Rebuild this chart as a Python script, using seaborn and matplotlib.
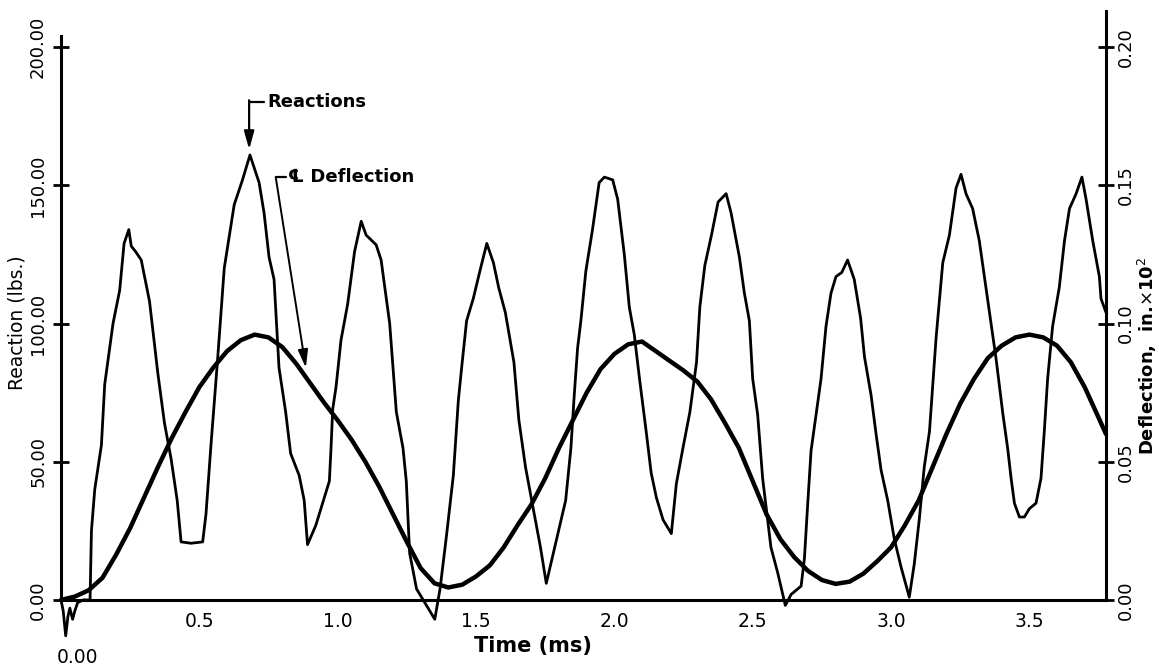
import matplotlib
matplotlib.use("Agg")
import matplotlib.pyplot as plt
import seaborn as sns
import pandas as pd

# ---------------- data ----------------
reaction_t = [0.000, 0.008, 0.017, 0.025, 0.032, 0.042, 0.050, 0.060, 0.080, 0.105,
              0.110, 0.122, 0.146, 0.158, 0.188, 0.212, 0.228, 0.245, 0.254, 0.270,
              0.290, 0.320, 0.350, 0.374, 0.398, 0.420, 0.434, 0.470, 0.512, 0.524,
              0.542, 0.566, 0.590, 0.626, 0.656, 0.683, 0.716, 0.734, 0.752, 0.770,
              0.788, 0.812, 0.830, 0.861, 0.879, 0.891, 0.921, 0.970, 0.976, 0.982,
              0.994, 1.012, 1.036, 1.061, 1.085, 1.103, 1.139, 1.157, 1.188, 1.212,
              1.236, 1.248, 1.260, 1.285, 1.315, 1.351, 1.370, 1.393, 1.418, 1.436,
              1.448, 1.466, 1.490, 1.514, 1.539, 1.563, 1.582, 1.606, 1.637, 1.655,
              1.679, 1.709, 1.733, 1.754, 1.782, 1.824, 1.843, 1.855, 1.867, 1.879,
              1.897, 1.921, 1.945, 1.964, 1.994, 2.012, 2.036, 2.054, 2.072, 2.091,
              2.115, 2.133, 2.152, 2.176, 2.206, 2.224, 2.248, 2.273, 2.297, 2.309,
              2.327, 2.351, 2.375, 2.404, 2.422, 2.452, 2.470, 2.488, 2.500, 2.518,
              2.536, 2.554, 2.566, 2.590, 2.618, 2.639, 2.675, 2.687, 2.699, 2.711,
              2.729, 2.747, 2.765, 2.783, 2.801, 2.822, 2.843, 2.867, 2.890, 2.904,
              2.928, 2.946, 2.964, 2.988, 3.012, 3.036, 3.066, 3.084, 3.102, 3.120,
              3.139, 3.163, 3.187, 3.211, 3.235, 3.253, 3.271, 3.295, 3.319, 3.343,
              3.361, 3.380, 3.404, 3.422, 3.434, 3.446, 3.464, 3.482, 3.500, 3.524,
              3.542, 3.554, 3.566, 3.584, 3.608, 3.627, 3.645, 3.669, 3.690, 3.705,
              3.729, 3.753, 3.759, 3.777]
reaction_lbs = [0, -4, -13, -6, -3, -7, -4, -1, 0, 0,
                25, 40, 56, 78, 100, 112, 129, 134, 128, 126,
                123, 108, 82, 64, 51, 36, 21, 20.5, 21, 31,
                56, 87, 120, 143, 152, 161, 151, 140, 124, 116,
                84, 68, 53, 45, 36, 20, 27, 43, 55, 69,
                77, 94, 107, 126, 137, 132, 128.5, 123, 100, 68,
                55, 43, 17, 4, -1, -7, 4, 23, 45, 72,
                84, 101, 109, 119, 129, 122, 113, 104, 86, 65,
                48, 32, 19, 6, 18, 36, 55, 74, 91, 101,
                119, 134, 151, 153, 152, 145, 125, 106, 96, 80,
                61, 46, 37, 29, 24, 42, 55, 68, 86, 106,
                121, 132, 144, 147, 140, 124, 111, 101, 80, 67,
                44, 29, 19, 10, -2, 2, 5, 15, 35, 54,
                67, 80, 99, 111, 117, 118.5, 123, 116, 102, 88,
                74, 60, 47, 36, 22, 12, 1, 13, 29, 48,
                61, 95, 122, 132, 149, 154, 147, 141.6, 130, 113,
                100, 87, 67.5, 54.5, 44, 35, 30, 30, 33, 35,
                44, 61, 80, 99, 113, 130, 141.6, 147, 153, 145,
                130, 117, 109, 104]

deflection_t = [0.00, 0.05, 0.10, 0.15, 0.20, 0.25, 0.30, 0.35, 0.40, 0.45,
                0.50, 0.55, 0.60, 0.65, 0.70, 0.75, 0.80, 0.85, 0.90, 0.95,
                1.00, 1.05, 1.10, 1.15, 1.20, 1.25, 1.30, 1.35, 1.40, 1.45,
                1.50, 1.55, 1.60, 1.65, 1.70, 1.75, 1.80, 1.85, 1.90, 1.95,
                2.00, 2.05, 2.10, 2.15, 2.20, 2.25, 2.30, 2.35, 2.40, 2.45,
                2.50, 2.55, 2.60, 2.65, 2.70, 2.75, 2.80, 2.85, 2.90, 2.95,
                3.00, 3.05, 3.10, 3.15, 3.20, 3.25, 3.30, 3.35, 3.40, 3.45,
                3.50, 3.55, 3.60, 3.65, 3.70, 3.75, 3.777]
deflection_in = [0.0, 0.0012, 0.0035, 0.008, 0.0165, 0.026, 0.037, 0.048, 0.0585, 0.068,
                 0.077, 0.084, 0.090, 0.094, 0.096, 0.095, 0.0915, 0.0855, 0.0785, 0.0715,
                 0.065, 0.058, 0.050, 0.041, 0.031, 0.021, 0.0115, 0.006, 0.0045, 0.0055,
                 0.0085, 0.0125, 0.019, 0.027, 0.0345, 0.044, 0.055, 0.065, 0.075, 0.0835,
                 0.089, 0.0925, 0.0935, 0.090, 0.0865, 0.083, 0.079, 0.0725, 0.064, 0.055,
                 0.043, 0.031, 0.022, 0.0155, 0.0105, 0.0072, 0.0058, 0.0066, 0.0095, 0.014,
                 0.019, 0.027, 0.036, 0.048, 0.060, 0.071, 0.080, 0.0875, 0.092, 0.095,
                 0.096, 0.095, 0.092, 0.086, 0.077, 0.066, 0.060]

x_ticks = [0.5, 1.0, 1.5, 2.0, 2.5, 3.0, 3.5]
x_tick_labels = ["0.5", "1.0", "1.5", "2.0", "2.5", "3.0", "3.5"]
left_ticks = [0, 50, 100, 150, 200]
left_tick_labels = ["0.00", "50.00", "100.00", "150.00", "200.00"]
right_ticks = [0.0, 0.05, 0.10, 0.15, 0.20]
right_tick_labels = ["0.00", "0.05", "0.10", "0.15", "0.20"]

react_df = pd.DataFrame({"t": reaction_t, "r": reaction_lbs})
defl_df = pd.DataFrame({"t": deflection_t, "d": deflection_in})

# ---------------- style ----------------
sns.set_theme(style="white")
plt.rcParams["font.family"] = ["DejaVu Sans", "Noto Sans"]

W, H = 1159, 672
fig = plt.figure(figsize=(W / 100, H / 100), dpi=100)
fig.patch.set_facecolor("white")

ax = fig.add_axes([61 / W, 3 / H, 1045 / W, 666 / H])
ax.set_facecolor("white")
ax2 = ax.twinx()

XMAX = 3.777
ax.set_xlim(0, XMAX)
ax.set_ylim(-25, 216)
ax2.set_ylim(-0.025, 0.216)

sns.lineplot(data=react_df, x="t", y="r", ax=ax, sort=False, estimator=None,
             color="black", linewidth=2.0, clip_on=False)
sns.lineplot(data=defl_df, x="t", y="d", ax=ax2, sort=False, estimator=None,
             color="black", linewidth=3.2, clip_on=False)

# spines
for a in (ax, ax2):
    a.spines["top"].set_visible(False)
ax.spines["right"].set_visible(False)
ax2.spines["left"].set_visible(False)
ax2.spines["bottom"].set_visible(False)
ax.spines["bottom"].set_position(("data", 0))
ax.spines["bottom"].set_bounds(0, XMAX)
ax.spines["left"].set_bounds(0, 204)
ax2.spines["right"].set_bounds(0, 0.213)
for sp in (ax.spines["bottom"], ax.spines["left"], ax2.spines["right"]):
    sp.set_color("black")
    sp.set_linewidth(2.2)

# ticks
ax.set_xticks(x_ticks)
ax.set_xticklabels(x_tick_labels, fontsize=13.5)
ax.tick_params(axis="x", direction="inout", length=10, width=2, pad=4, colors="black")
ax.set_yticks(left_ticks)
ax.set_yticklabels(left_tick_labels, rotation=90, va="center", fontsize=13)
ax.tick_params(axis="y", direction="inout", length=12, width=2, pad=4, colors="black")
ax2.set_yticks(right_ticks)
ax2.set_yticklabels(right_tick_labels, rotation=90, va="center", fontsize=13)
ax2.tick_params(axis="y", direction="inout", length=12, width=2, pad=2, colors="black")

ax.set_xlabel("")
ax.set_ylabel("Reaction (lbs.)", fontsize=13.5, color="black")
ax.yaxis.set_label_coords(-0.033, 0.52)
ax2.set_ylabel(r"Deflection,  in.$\times$10$^2$", fontsize=13, fontweight="bold",
               color="black", rotation=90)
ax2.yaxis.set_label_coords(1.029, 0.47)

ax.text(1.705, -16.5, "Time (ms)", ha="center", va="center", fontsize=15,
        fontweight="bold", color="black")
ax.text(0.06, -21, "0.00", ha="center", va="center", fontsize=13.5, color="black")

# annotations
ax.plot([0.68, 0.735], [180, 180], color="black", lw=1.6, clip_on=False)
ax.annotate("", xy=(0.68, 163), xytext=(0.68, 180.8),
            arrowprops=dict(arrowstyle="-|>,head_length=0.9,head_width=0.25",
                            color="black", lw=1.6, shrinkA=0, shrinkB=0))
ax.text(0.745, 180, "Reactions", ha="left", va="center", fontsize=13,
        fontweight="bold", color="black")

ax.plot([0.776, 0.815], [153, 153], color="black", lw=1.6)
ax.annotate("", xy=(0.885, 84), xytext=(0.776, 153),
            arrowprops=dict(arrowstyle="-|>,head_length=0.9,head_width=0.25",
                            color="black", lw=1.4, shrinkA=0, shrinkB=0))
ax.text(0.82, 153, "\u2104 Deflection", ha="left", va="center", fontsize=13,
        fontweight="bold", color="black")

ax.grid(False)
ax2.grid(False)
fig.savefig("out.png", dpi=100, facecolor="white")
